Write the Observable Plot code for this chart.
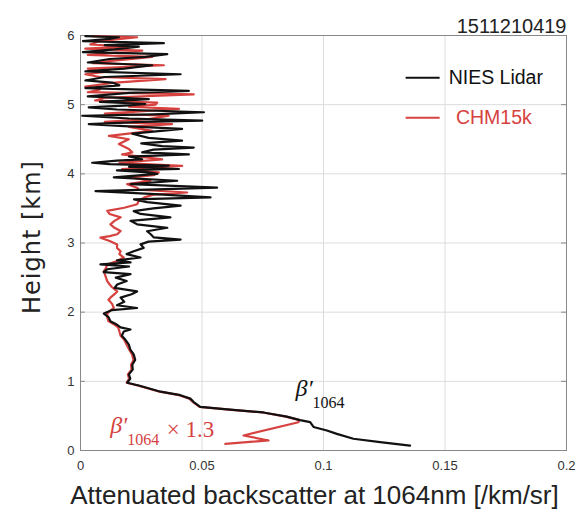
<!DOCTYPE html>
<html>
<head>
<meta charset="utf-8">
<script src="https://cdn.jsdelivr.net/npm/d3@7"></script>
<script src="https://cdn.jsdelivr.net/npm/@observablehq/plot@0.6"></script>
<style>
  html, body { margin: 0; padding: 0; background: #fff; }
</style>
</head>
<body>
<div id="chart"></div>
<script>
// ---- data (values in 1e-3 /km/sr, heights in km) ----
const title = "1511210419";
const xLabel = "Attenuated backscatter at 1064nm [/km/sr]";
const yLabel = "Height [km]";
const seriesNames = ["NIES Lidar", "CHM15k"];
const xTicks = [0, 0.05, 0.1, 0.15, 0.2];
const xTickLabels = ["0", "0.05", "0.1", "0.15", "0.2"];
const yTicks = [0, 1, 2, 3, 4, 5, 6];
const yTickLabels = ["0", "1", "2", "3", "4", "5", "6"];

const niesHeight = [0.07,0.12,0.17,0.24,0.29,0.34,0.41,0.44,0.49,0.55,0.59,0.63,0.70,0.75,0.80,0.85,0.90,0.94,0.98,
  1.04,1.10,1.17,1.24,1.31,1.39,1.46,1.53,1.60,1.66,1.72,1.75,1.78,1.83,1.87,1.93,1.98,
  2.03,2.06,2.10,2.15,2.21,2.26,2.30,2.35,2.40,2.45,2.50,2.55,2.58,2.62,2.66,2.69,2.72,2.75,2.79,2.84,2.88,2.93,2.98,
  3.02,3.05,3.08,3.13,3.17,3.22,3.27,3.32,3.37,3.42,3.46,3.50,3.54,3.59,3.63,3.66,3.71,3.75,3.80,3.85,3.90,3.95,
  4.00,4.02,4.05,4.07,4.10,4.12,4.14,4.16,4.19,4.21,4.25,4.28,4.31,4.35,4.38,4.40,4.44,4.48,4.52,4.58,4.61,4.65,4.69,4.72,4.75,4.77,4.80,4.84,4.86,4.89,4.93,4.96,4.99,
  5.01,5.04,5.08,5.12,5.17,5.20,5.24,5.28,5.32,5.35,5.40,5.44,5.48,5.52,5.57,5.61,5.66,5.69,5.73,5.76,5.80,5.84,5.86,5.89,5.92,5.95,5.975,5.99];
const niesValue = [135.6,123.3,112.3,105.5,101.4,95.9,94.5,90.4,84.9,75.3,61.6,49.3,46.6,45.2,41.1,33,28,24,19.2,
  20.5,19.9,21.5,21.3,22.5,21.9,20.5,19.9,18.5,17.0,17.8,20.6,16.5,14.5,12.3,11.5,9.6,
  13,23.3,15,18,16.5,21,23.3,14,15.1,19,14.5,20.6,9.5,11.0,20,8.2,20.6,15,24.7,19,21.9,26,24.7,
  28,41.2,30.2,28.8,27.4,35.7,23.3,20.6,37.0,24.7,21.9,30,41.2,27.4,22,53.5,28.8,6.2,56.2,20.6,39.8,13.7,
  31.6,28.1,15,40.5,20,36.3,12,4.8,15,25.4,20,44.6,25.4,30,46.6,33.6,25,41.8,28,21.3,30,41.8,18,3.4,25,50.1,20,0.7,30,50.8,15,3.4,20,
  26.7,8,28.1,3,20,44.6,2,16,13.0,2,10,41.2,2,18,29.5,3,12,26.7,35.7,1,14,24.0,10,34.3,1,12,15.8,2];

const chmHeight = [0.097,0.145,0.217,0.409,0.44,0.49,0.55,0.59,0.63,0.70,0.75,0.80,0.85,0.90,0.94,0.98,
  1.04,1.10,1.17,1.24,1.31,1.39,1.46,1.53,1.60,1.66,1.72,1.78,1.83,1.87,1.93,1.98,
  2.03,2.06,2.12,2.18,2.21,2.26,2.30,2.36,2.40,2.45,2.50,2.55,2.59,2.64,2.69,2.74,2.79,2.84,2.88,2.93,2.98,
  3.03,3.077,3.10,3.126,3.174,3.22,3.27,3.32,3.37,3.42,3.464,3.51,3.56,3.61,3.657,3.70,3.73,3.77,3.80,3.85,3.90,3.947,3.98,
  4.02,4.07,4.115,4.16,4.21,4.28,4.31,4.36,4.43,4.50,4.55,4.62,4.68,4.72,4.75,4.79,4.84,4.87,4.94,4.97,
  5.00,5.03,5.06,5.10,5.15,5.18,5.22,5.26,5.32,5.37,5.40,5.44,5.48,5.52,5.57,5.60,5.63,5.69,5.72,5.78,5.81,5.84,5.87,5.92,5.975,5.99];
const chmValue = [59.6,77.4,67.1,89.7,90.0,84.5,75,61,49,46.3,44.8,40.6,32.5,27.5,23.5,19,
  20,19.5,21,20.8,21.8,21.2,20,19,18,16.5,16,15.5,13.5,11.5,11,11.0,
  12.5,13.7,13,11.5,12.3,14,15.1,13,12,11.0,10.5,10,9.6,10.5,11.0,15,17.8,16,16.5,15,15.1,
  12,8.2,12,15.1,16.5,14,12.3,14,16.5,12,11.0,18,23.3,24,26.1,30,43.9,24,23.3,19.2,28.8,20.6,30,
  32.2,17.1,41.8,16,33.6,17.1,21.3,19.9,15.8,19.9,11.7,29.5,20,37.7,10,28.1,36.3,10,40.5,20,
  30.9,31.6,6,10,46.6,3,8,2,14.4,35.0,8,2,12,3,34.3,5,11.7,29.5,3,25.4,2,19.9,4,8,23.3,5];

// annotation text pieces
const blackAnno = {beta: "β′", sub: "1064"};
const redAnno = {beta: "β′", sub: "1064", tail: "× 1.3"};

// ---- build tables ----
const nies = niesHeight.map((h, i) => ({h, v: niesValue[i] / 1000}));
const chm = chmHeight.map((h, i) => ({h, v: chmValue[i] / 1000}));

const black = "#111";
const red = "#d6423f";
const sans = "'Liberation Sans', sans-serif";
const serif = "'Liberation Serif', 'DejaVu Serif', serif";

const chart = Plot.plot({
  width: 579,
  height: 522,
  marginLeft: 80,
  marginRight: 13,
  marginTop: 35,
  marginBottom: 72,
  style: {background: "#fff", fontFamily: sans},
  x: {domain: [0, 0.2]},
  y: {domain: [0, 6]},
  marks: [
    Plot.gridX(xTicks, {stroke: "#dcdcdc", strokeOpacity: 1}),
    Plot.gridY(yTicks, {stroke: "#dcdcdc", strokeOpacity: 1}),
    Plot.axisX({ticks: xTicks, tickFormat: (d, i) => xTickLabels[i], tickSize: 0, tickPadding: 10, fontSize: 13, fill: "#333", label: null}),
    Plot.axisY({ticks: yTicks, tickFormat: (d, i) => yTickLabels[i], tickSize: 0, tickPadding: 6, fontSize: 13, fill: "#333", label: null}),
    Plot.ruleY(yTicks, {x1: 0, x2: 0.002, stroke: "#888"}),
    Plot.ruleY(yTicks, {x1: 0.198, x2: 0.2, stroke: "#888"}),
    Plot.frame({stroke: "#888"}),
    Plot.line(chm, {x: "v", y: "h", stroke: red, strokeWidth: 2.2}),
    Plot.line(nies, {x: "v", y: "h", stroke: black, strokeWidth: 2.2}),
    // legend
    Plot.ruleY([5.39], {x1: 0.134, x2: 0.148, stroke: black, strokeWidth: 2}),
    Plot.ruleY([4.81], {x1: 0.134, x2: 0.148, stroke: red, strokeWidth: 2}),
    Plot.text([seriesNames[0]], {x: 0.1515, y: 5.39, text: d => d, textAnchor: "start", fontSize: 19.5, fill: "#111"}),
    Plot.text([seriesNames[1]], {x: 0.1545, y: 4.81, text: d => d, textAnchor: "start", fontSize: 19.5, fill: red}),
    // annotations
    Plot.text([blackAnno.beta], {x: 0.0885, y: 0.9, text: d => d, textAnchor: "start", fontSize: 24, fontStyle: "italic", fontFamily: serif, fill: "#111"}),
    Plot.text([blackAnno.sub], {x: 0.0955, y: 0.69, text: d => d, textAnchor: "start", fontSize: 16, fontFamily: serif, fill: "#111"}),
    Plot.text([redAnno.beta], {x: 0.0122, y: 0.37, text: d => d, textAnchor: "start", fontSize: 24, fontStyle: "italic", fontFamily: serif, fill: red}),
    Plot.text([redAnno.sub], {x: 0.0192, y: 0.16, text: d => d, textAnchor: "start", fontSize: 16, fontFamily: serif, fill: red}),
    Plot.text([redAnno.tail], {x: 0.0355, y: 0.3, text: d => d, textAnchor: "start", fontSize: 23, fontFamily: serif, fill: red}),
    // title and axis labels
    Plot.text([title], {frameAnchor: "top-right", text: d => d, textAnchor: "end", lineAnchor: "bottom", dy: -3, fontSize: 20, fill: "#222"}),
    Plot.text([xLabel], {frameAnchor: "bottom", text: d => d, textAnchor: "middle", lineAnchor: "middle", dy: 45, dx: -9, fontSize: 26, fill: "#222"}),
    Plot.text([yLabel], {frameAnchor: "left", text: d => d, textAnchor: "middle", lineAnchor: "middle", rotate: -90, dx: -48, dy: -6, fontSize: 24, fill: "#222", fontFamily: "'DejaVu Sans', sans-serif"})
  ]
});
// slight letter spacing on the rotated axis title, as in the reference
d3.select(chart).selectAll("text").filter(function() { return this.textContent === yLabel; })
  .style("letter-spacing", "1px");
document.getElementById("chart").appendChild(chart);
</script>
</body>
</html>
